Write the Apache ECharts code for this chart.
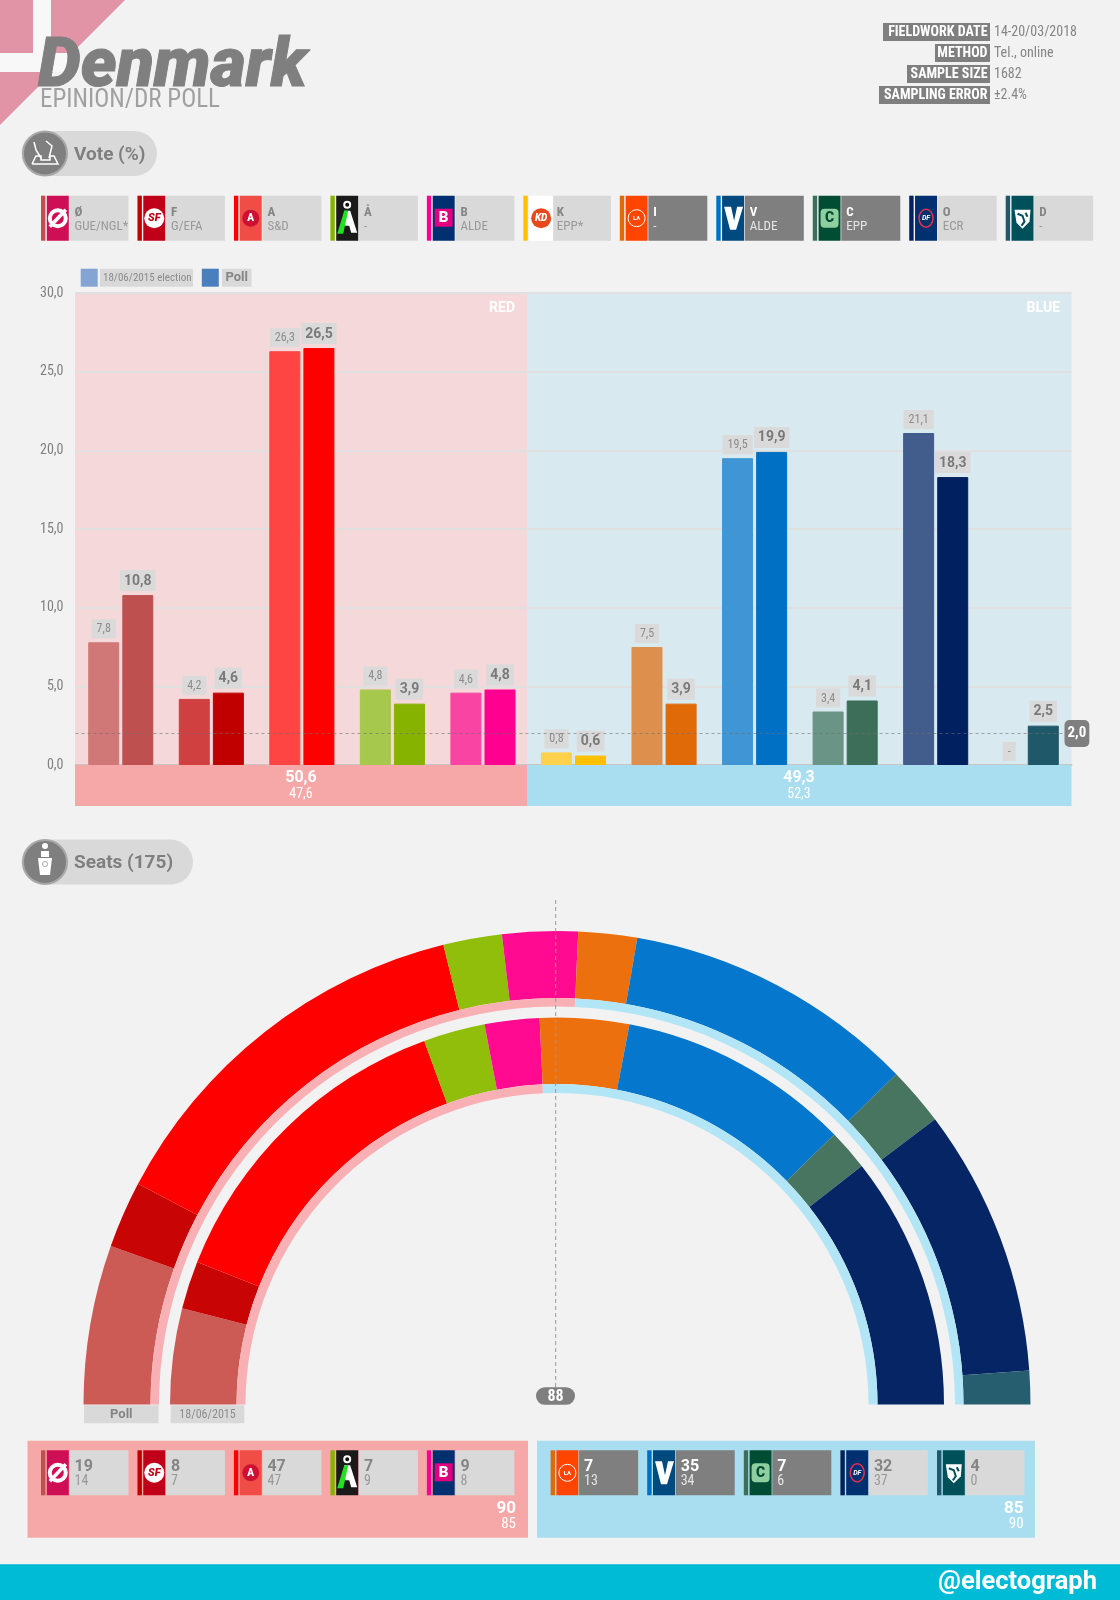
<!DOCTYPE html>
<html>
<head>
<meta charset="utf-8">
<title>Denmark - Epinion/DR poll</title>
<style>
html, body { margin: 0; padding: 0; background: #f2f2f2; }
#chart { width: 1120px; height: 1600px; }
</style>
<script src="https://cdn.jsdelivr.net/npm/echarts@6/dist/echarts.min.js"></script>
</head>
<body>
<div id="chart"></div>
<script>
// data
var parties = ['Ø', 'F', 'A', 'Å', 'B', 'K', 'I', 'V', 'C', 'O', 'D'];
var groups = ['GUE/NGL*', 'G/EFA', 'S&D', '-', 'ALDE', 'EPP*', '-', 'ALDE', 'EPP', 'ECR', '-'];
var government = ['I', 'V', 'C'];
var votePrev = [7.8, 4.2, 26.3, 4.8, 4.6, 0.8, 7.5, 19.5, 3.4, 21.1, 0];
var votePoll = [10.8, 4.6, 26.5, 3.9, 4.8, 0.6, 3.9, 19.9, 4.1, 18.3, 2.5];
var seatsPrev = [14, 7, 47, 9, 8, 0, 13, 34, 6, 37, 0];
var seatsPoll = [19, 8, 47, 7, 9, 0, 7, 35, 7, 32, 4];
var blocNames = ['RED', 'BLUE'];
var blocVotePoll = ['50,6', '49,3'];
var blocVotePrev = ['47,6', '52,3'];
var blocSeatsPoll = [90, 85];
var blocSeatsPrev = [85, 90];
var threshold = 2;
var majority = 88;
var infoKeys = ['FIELDWORK DATE', 'METHOD', 'SAMPLE SIZE', 'SAMPLING ERROR'];
var infoValues = ['14-20/03/2018', 'Tel., online', '1682', '±2.4%'];
var yTicks = { min: 0, max: 30, interval: 5 };

// colors
var barPoll = ['#be5050', '#c00000', '#ff0000', '#86b300', '#ff0090', '#ffc000', '#e06a08', '#0070c5', '#3c6e5a', '#00205f', '#1f5868'];
var barPrev = ['#d07878', '#d04040', '#ff4444', '#a6c84c', '#fa44a4', '#ffd14c', '#dd904e', '#4096d4', '#6a9486', '#425c8c', '#5f8a96'];
var seatColor = ['#cc5a55', '#c80404', '#ff0000', '#90be0a', '#ff0a90', '#ffc000', '#ec700e', '#0577cc', '#47755f', '#052565', '#265e70'];
var bg = '#f2f2f2', grey = '#7f7f7f', chipGrey = '#d9d9d9';
var redLight = '#f5d9da', blueLight = '#d9e9f0', redStrip = '#f6a8a8', blueStrip = '#a9ddf0', redRing = '#f8b0b4', blueRing = '#b2e5f6';

var narrow = '"Roboto Condensed","Liberation Sans Narrow",Roboto,sans-serif';
var normal = 'Roboto,sans-serif';

function comma(v) {
    return v.toFixed(1).replace('.', ',');
}

var els = [];
function rect(x, y, w, h, color, z, r) {
    els.push({ type: 'rect', silent: true, z: z || 10, shape: { x: x, y: y, width: w, height: h, r: r || 0 }, style: { fill: color } });
}
function text(str, x, y, font, color, align, z) {
    els.push({ type: 'text', silent: true, z: z || 12, x: x, y: y, style: { text: String(str), font: font, fill: color, textAlign: align || 'left', textVerticalAlign: 'middle' } });
}
function circle(cx, cy, r, color, stroke, lw, z) {
    els.push({ type: 'circle', silent: true, z: z || 11, shape: { cx: cx, cy: cy, r: r }, style: { fill: color, stroke: stroke || null, lineWidth: lw || 0 } });
}
function poly(points, color, z) {
    els.push({ type: 'polygon', silent: true, z: z || 11, shape: { points: points }, style: { fill: color } });
}
function pline(points, color, lw, z) {
    els.push({ type: 'polyline', silent: true, z: z || 11, shape: { points: points }, style: { fill: null, stroke: color, lineWidth: lw } });
}

// party logo in a 22x45 box
function logo(name, x, y) {
    var cx = x + 11, cy = y + 22.5;
    if (name == 'Ø') {
        rect(x, y, 22, 45, '#cf0f55', 11);
        circle(cx, cy, 8, 'transparent', '#fff', 4, 12);
        pline([[x + 3, y + 31], [x + 19, y + 14]], '#fff', 3.5, 13);
    } else if (name == 'F') {
        rect(x, y, 22, 45, '#c00018', 11);
        circle(cx, cy, 10, '#fff', null, 0, 12);
        text('SF', cx, cy + 0.5, 'italic 900 11px ' + normal, '#c00018', 'center', 13);
    } else if (name == 'A') {
        rect(x, y, 22, 45, '#f04d47', 11);
        circle(cx, cy, 8.5, '#cc1133', null, 0, 12);
        text('A', cx, cy + 0.5, '900 10px ' + normal, '#fff', 'center', 13);
    } else if (name == 'Å') {
        rect(x, y, 22, 45, '#1a1a1a', 11);
        circle(cx, y + 9, 3, '#111', '#fff', 2, 12);
        poly([[x + 8, y + 15], [x + 14, y + 15], [x + 21, y + 37], [x + 15, y + 37], [x + 13, y + 30], [x + 9, y + 30]], '#fff', 12);
        poly([[x + 1, y + 38], [x + 8, y + 15], [x + 12, y + 15], [x + 7, y + 38]], '#22e022', 13);
    } else if (name == 'B') {
        rect(x, y, 22, 45, '#003070', 11);
        rect(x + 2, y + 13, 18, 18, '#e0007f', 12);
        text('B', cx, cy, '900 15px ' + normal, '#fff', 'center', 13);
    } else if (name == 'K') {
        rect(x, y, 24, 45, '#fff', 11);
        circle(x + 12, cy, 10, '#e8481c', null, 0, 12);
        text('KD', x + 12, cy + 0.5, 'italic 900 10px ' + normal, '#fff', 'center', 13);
    } else if (name == 'I') {
        rect(x, y, 22, 45, '#ff4500', 11);
        circle(cx, cy, 8.5, 'transparent', '#fff', 1, 12);
        text('LA', cx, cy + 0.5, '700 6px ' + normal, '#fff', 'center', 13);
    } else if (name == 'V') {
        rect(x, y, 22, 45, '#004a80', 11);
        poly([[x + 2, y + 11], [x + 9, y + 11], [x + 12, y + 25], [x + 15, y + 11], [x + 21, y + 11], [x + 14, y + 34], [x + 8, y + 34]], '#fff', 12);
    } else if (name == 'C') {
        rect(x, y, 22, 45, '#004d33', 11);
        rect(x + 2, y + 13, 18, 19, '#8fcf9f', 12, 4);
        text('C', cx, cy + 0.5, '900 14px ' + normal, '#004d33', 'center', 13);
    } else if (name == 'O') {
        rect(x, y, 22, 45, '#003070', 11);
        els.push({ type: 'ellipse', silent: true, z: 12, shape: { cx: cx, cy: cy, rx: 7, ry: 9 }, style: { fill: 'transparent', stroke: '#e8304a', lineWidth: 1.5 } });
        text('DF', cx, cy + 0.5, 'italic 700 7px ' + normal, '#fff', 'center', 13);
    } else {
        rect(x, y, 22, 45, '#00505a', 11);
        poly([[x + 3, y + 14], [x + 19, y + 14], [x + 18, y + 26], [x + 11, y + 33], [x + 5, y + 27]], '#fff', 12);
        pline([[x + 6, y + 18], [x + 11, y + 20], [x + 13, y + 26], [x + 10, y + 30]], '#00505a', 2, 13);
        pline([[x + 14, y + 17], [x + 16, y + 21]], '#00505a', 2, 13);
    }
}

function chip(i, x, y, top, bottom, bold) {
    var dark = government.indexOf(parties[i]) >= 0;
    rect(x, y, 4.4, 45, barPoll[i]);
    logo(parties[i], x + 5.8, y);
    rect(x + 28.5, y, 59, 45, dark ? grey : chipGrey);
    var c1 = dark ? '#fff' : '#858585', c2 = dark ? '#e6e6e6' : '#999';
    text(top, x + 33.5, y + 17, (bold ? '700 16px ' + normal : '700 13px ' + narrow), c1);
    text(bottom, x + 33.5, y + 31, (bold ? '14px ' : '13px ') + narrow, c2);
}

// flag
poly([[0, 0], [125, 0], [0, 125]], '#e094a6', 1);
rect(33, 0, 18, 72, '#f8f8f8', 2);
rect(0, 53, 72, 19, '#f8f8f8', 2);

// title
text('Denmark', 38, 68.5, 'italic 900 68px ' + normal, grey, 'left', 5);
els[els.length - 1].style.stroke = grey;
els[els.length - 1].style.lineWidth = 1;
text('EPINION/DR POLL', 40, 101, '25px ' + narrow, '#a0a0a0');

// fieldwork box
var infoY = [32, 53, 74, 95];
var infoW = [107, 55, 83, 111];
infoKeys.forEach(function (k, i) {
    rect(990 - infoW[i], infoY[i] - 9, infoW[i], 18, grey);
    text(k, 987.5, infoY[i] + 0.5, '700 14px ' + narrow, '#fff', 'right');
    text(infoValues[i], 994, infoY[i] + 0.5, '14px ' + narrow, '#858585');
});

// section pills
function pill(label, w, cy) {
    rect(21.5, cy - 22.5, w, 45, chipGrey, 10, 22.5);
    circle(45, cy, 22, grey, '#a8a8a8', 2);
    text(label, 74, cy + 1.5, '700 19px ' + normal, grey);
}
pill('Vote (%)', 135.5, 153.5);
pill('Seats (175)', 171.5, 862);
// ballot box icon
pline([[32, 164], [36, 156], [41, 156], [41, 160], [50, 160], [50, 156], [54, 156], [58, 164], [32, 164]], '#fff', 1.5, 12);
pline([[34, 142], [36, 150], [41, 158]], '#fff', 1.5, 12);
pline([[46, 141], [52, 146], [49, 158]], '#fff', 1.5, 12);
// voter icon
circle(45, 846, 3, '#fff', null, 0, 12);
rect(41, 851, 8, 6, '#fff', 12);
poly([[38, 858], [52, 858], [50, 875], [40, 875]], '#fff', 12);
circle(45, 864, 2.5, '#fff', '#aaa', 1, 13);

// top chips
var chipStep = 96.47;
parties.forEach(function (p, i) {
    chip(i, 41 + chipStep * i, 195.7, p, groups[i], false);
});

// legend of the bars
rect(80.7, 268.7, 17, 18, '#84a5d2');
rect(100, 268.7, 93, 18, chipGrey);
text('18/06/2015 election', 103, 278, '11px ' + narrow, '#8c8c8c');
rect(201.8, 268.7, 17, 18, '#4a7fbe');
rect(222, 268.7, 29.5, 18, chipGrey);
text('Poll', 236.7, 278, '700 13px ' + normal, '#858585', 'center');

// bands behind the bars (under axis lines)
rect(75, 293, 452, 472, redLight, -1);
rect(527, 293, 544.5, 472, blueLight, -1);
rect(75, 765, 452, 41, redStrip, 1);
rect(527, 765, 544.5, 41, blueStrip, 1);
text(blocNames[0], 515, 308, '700 14px ' + normal, '#fff', 'right');
text(blocNames[1], 1060, 308, '700 14px ' + normal, '#fff', 'right');
text(blocVotePoll[0], 301, 778, '700 16px ' + normal, '#fff', 'center');
text(blocVotePrev[0], 301, 794, '14px ' + narrow, '#fff', 'center');
text(blocVotePoll[1], 799, 778, '700 16px ' + normal, '#fff', 'center');
text(blocVotePrev[1], 799, 794, '14px ' + narrow, '#fff', 'center');

// majority marker
els.push({ type: 'line', silent: true, z: 15, shape: { x1: 555.7, y1: 900, x2: 555.7, y2: 1388 }, style: { stroke: '#999', lineWidth: 1, lineDash: [4, 3] } });
rect(536, 1387.3, 39, 17.5, grey, 16, 8.7);
text(majority, 555.5, 1396.5, '700 16px ' + narrow, '#fff', 'center', 17);

// ring captions
rect(84, 1405.3, 74.6, 18, chipGrey);
text('Poll', 121.3, 1414.5, '700 13px ' + normal, '#858585', 'center');
rect(170.7, 1405.3, 73.6, 18, chipGrey);
text('18/06/2015', 207.5, 1414.5, '12px ' + narrow, '#8c8c8c', 'center');

// seat panels
rect(27.5, 1440.7, 500.5, 97, redStrip, 5);
rect(537, 1440.7, 498, 97, blueStrip, 5);
var blocStart = [41, 550.6], blocStep = [96.47, 96.6], blocEnd = [516, 1023.6], blocFrom = [0, 6];
[0, 1].forEach(function (b) {
    var n = 0;
    parties.forEach(function (p, i) {
        if ((b == 0 ? i >= blocFrom[1] : i < blocFrom[1]) || seatsPoll[i] + seatsPrev[i] == 0) return;
        chip(i, blocStart[b] + blocStep[b] * n, 1450.3, seatsPoll[i], seatsPrev[i], true);
        n++;
    });
    text(blocSeatsPoll[b], blocEnd[b], 1508.5, '700 17px ' + normal, '#fff', 'right');
    text(blocSeatsPrev[b], blocEnd[b], 1524, '15px ' + narrow, '#fff', 'right');
});

// footer
rect(0, 1564.3, 1120, 35.7, '#00bbd6');
text('@electograph', 1097, 1582.5, '700 25.5px ' + normal, '#fff', 'right');

function sum(arr) {
    return arr.reduce(function (a, b) { return a + b; }, 0);
}

// half ring: the hidden slice fills the lower half of the pie
function ring(name, values, colors, inner, outer) {
    var data = values.map(function (v, i) {
        return { name: name + i, value: v, itemStyle: { color: colors[i] } };
    });
    data.push({ name: 'hidden', value: sum(values), itemStyle: { color: 'transparent' } });
    return {
        type: 'pie',
        silent: true,
        center: [557, 1404.5],
        radius: [inner, outer],
        startAngle: 180,
        clockwise: true,
        animation: false,
        label: { show: false },
        labelLine: { show: false },
        itemStyle: { borderWidth: 0 },
        data: data
    };
}

function barData(values, colors, borders) {
    return values.map(function (v, i) {
        return { value: v, itemStyle: { color: colors[i], borderColor: borders[i], borderWidth: v ? 1 : 0 } };
    });
}

var Chart = echarts.init(document.getElementById('chart'), null, { renderer: 'canvas' });
Chart.setOption({
    backgroundColor: bg,
    animation: false,
    grid: { left: 75.5, right: 48.5, top: 293, bottom: 835 },
    xAxis: {
        type: 'category',
        data: parties,
        axisLine: { lineStyle: { color: 'rgba(120,120,120,0.25)', width: 2 } },
        axisTick: { show: false },
        axisLabel: { show: false }
    },
    yAxis: {
        type: 'value',
        min: yTicks.min,
        max: yTicks.max,
        interval: yTicks.interval,
        axisLine: { show: false },
        axisTick: { show: false },
        axisLabel: {
            margin: 12,
            color: '#808080',
            fontFamily: narrow,
            fontSize: 14,
            formatter: comma
        },
        splitLine: { lineStyle: { color: '#e0e0e0', width: 2 } }
    },
    series: [
        {
            name: '18/06/2015 election',
            type: 'bar',
            barWidth: 31,
            barGap: '10%',
            silent: true,
            data: barData(votePrev, barPrev, barPrev),
            label: {
                show: true,
                position: 'top',
                distance: 4,
                color: '#8c8c8c',
                fontFamily: narrow,
                fontSize: 12,
                backgroundColor: '#dadada',
                padding: [4, 5, 3, 5],
                formatter: function (p) { return p.value ? comma(p.value) : '-'; }
            }
        },
        {
            name: 'Poll',
            type: 'bar',
            barWidth: 31,
            silent: true,
            data: barData(votePoll, barPoll, barPoll),
            label: {
                show: true,
                position: 'top',
                distance: 4,
                color: '#7a7a7a',
                fontFamily: normal,
                fontWeight: 700,
                fontSize: 14,
                backgroundColor: '#dadada',
                padding: [4, 4, 3, 4],
                formatter: function (p) { return comma(p.value); }
            },
            markLine: {
                silent: true,
                symbol: 'none',
                animation: false,
                lineStyle: { color: 'rgba(110,110,110,0.6)', type: [3, 3], width: 1 },
                label: {
                    show: true,
                    position: 'end',
                    distance: -7,
                    color: '#fff',
                    fontFamily: narrow,
                    fontWeight: 700,
                    fontSize: 15,
                    backgroundColor: grey,
                    borderRadius: 5,
                    padding: [6, 3, 6, 3],
                    formatter: comma(threshold)
                },
                data: [{ yAxis: threshold }]
            }
        },
        ring('poll', seatsPoll, seatColor, 406.5, 473.5),
        ring('pollbloc', blocSeatsPoll, [redRing, blueRing], 398, 406.5),
        ring('prev', seatsPrev, seatColor, 320.5, 387),
        ring('prevbloc', blocSeatsPrev, [redRing, blueRing], 311.5, 320.5)
    ],
    graphic: { elements: els }
});
</script>
</body>
</html>
